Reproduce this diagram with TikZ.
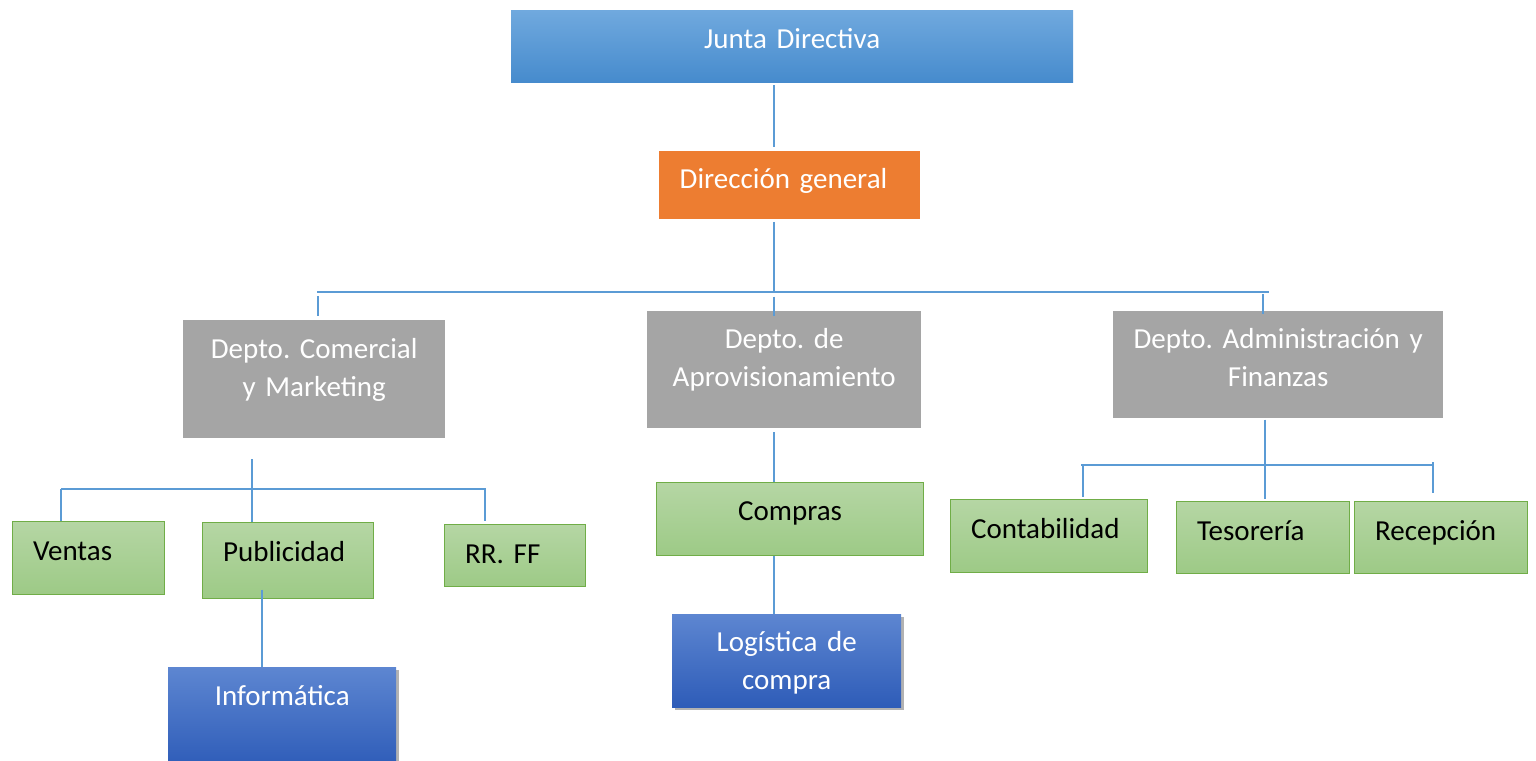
\documentclass[tikz,border=0pt]{standalone}
\usepackage{fontspec}
\setmainfont{Carlito}
\usepackage{tikz}
\usetikzlibrary{shadows}

\definecolor{linkblue}{RGB}{91,155,213}
\definecolor{juntatop}{RGB}{112,169,222}
\definecolor{juntabot}{RGB}{70,139,205}
\definecolor{dirorange}{RGB}{237,125,49}
\definecolor{deptgray}{RGB}{165,165,165}
\definecolor{leaftop}{RGB}{181,214,164}
\definecolor{leafbot}{RGB}{157,202,134}
\definecolor{leafedge}{RGB}{112,173,71}
\definecolor{darktop}{RGB}{93,134,209}
\definecolor{darkbot}{RGB}{46,92,184}

\tikzset{
    orgbox/.style={anchor=north west, inner xsep=20.5pt, inner ysep=0pt, text height=38.5pt, font=\fontsize{29}{38}\selectfont\frenchspacing},
    deptbox/.style={orgbox, inner xsep=8pt, fill=deptgray, text=white, align=center},
    leafbox/.style={orgbox, top color=leaftop, bottom color=leafbot, draw=leafedge, line width=1.2pt, align=left},
    unitbox/.style={orgbox, top color=darktop, bottom color=darkbot, text=white, align=center,
        drop shadow={shadow xshift=3pt, shadow yshift=-3pt, opacity=0.3, fill=black}},
    link/.style={draw=linkblue, line width=1.3pt}
}

\begin{document}
\begin{tikzpicture}[x=1pt, y=-1pt]
    \useasboundingbox (0,0) rectangle (1536,760);
    % top of the chart
    \node[orgbox, top color=juntatop, bottom color=juntabot, text=white, align=center, text width=521pt, text height=38.3pt, text depth=33.7pt] (junta) at (511,10) {Junta Directiva};
    \node[orgbox, fill=dirorange, text=white, align=left, text width=220pt, text height=37.3pt, text depth=30.7pt] (dir) at (659,151) {Dirección general};
    % departments
    \node[deptbox, text width=246pt, text height=38pt, text depth=80pt] (com) at (183,320) {Depto. Comercial\\y Marketing};
    \node[deptbox, text width=258pt, text height=37.6pt, text depth=79.4pt] (apr) at (647,311) {Depto. de\\Aprovisionamiento};
    \node[deptbox, text width=314pt, text height=37.6pt, text depth=69.4pt] (adm) at (1113,311) {Depto. Administración y\\Finanzas};
    % sections
    \foreach \n/\x/\y/\w/\d/\t in {ventas/12/521/111/34.5/Ventas, pub/202/522/130/37.5/Publicidad,
        rrff/444/524/100/23.5/RR. FF, cont/950/499/156/34.5/Contabilidad,
        tes/1176/501/132/33.5/Tesorería, rec/1354/501/132/33.5/Recepción}
        \node[leafbox, text width=\w pt, text depth=\d pt] (\n) at (\x,\y) {\t};
    \node[leafbox, align=center, text width=226pt, text height=38pt, text depth=35pt] (comp) at (656,482) {Compras};
    \node[unitbox, text width=187pt, text height=38.7pt, text depth=61.3pt] (inf) at (168,667) {Informática};
    \node[unitbox, text width=188pt, text height=37.7pt, text depth=55.3pt] (log) at (672,614) {Logística de\\compra};
    % main bus
    \coordinate (top) at (774,292);
    \coordinate (busL) at (318,292);
    \coordinate (busR) at (1269,292);
    \coordinate (admtop) at (1263,292);
    \draw[link, shorten <=3pt, shorten >=4pt] (junta.south -| top) -- (dir.north -| top);
    \draw[link, shorten <=2.5pt] (dir.south -| top) -- (top);
    \draw[link] ([xshift=-1pt]busL) -- (busR);
    \draw[link, shorten <=4pt, shorten >=4pt] (busL) -- (com.north -| busL);
    \draw[link, shorten <=4.5pt, shorten >=-5.3pt] (top) -- (apr.north -| top);
    \draw[link, shorten <=2pt, shorten >=-2.6pt] (admtop) -- (adm.north -| admtop);
    % Depto. Comercial y Marketing
    \coordinate (comx) at (252,489);
    \coordinate (comL) at (61,489);
    \coordinate (comR) at (485,489);
    \coordinate (infx) at (262,600);
    \draw[link, shorten <=21pt] (com.south -| comx) -- (pub.north -| comx);
    \draw[link] (comL) -- ([xshift=1pt]comR);
    \draw[link] (comL) -- (ventas.north -| comL);
    \draw[link, shorten >=3pt] (comR) -- (rrff.north -| comR);
    \draw[link, shorten <=-9.5pt] (pub.south -| infx) -- (inf.north -| infx);
    % Depto. de Aprovisionamiento
    \draw[link, shorten <=3.7pt] (apr.south -| top) -- (comp.north -| top);
    \draw[link] (comp.south -| top) -- (log.north -| top);
    % Depto. Administracion y Finanzas
    \coordinate (admx) at (1265,465);
    \coordinate (admL) at (1083,465);
    \coordinate (admR) at (1433,465);
    \draw[link, shorten <=1.3pt, shorten >=2pt] (adm.south -| admx) -- (tes.north -| admx);
    \draw[link] ([xshift=-2pt]admL) -- ([xshift=1pt]admR);
    \draw[link, shorten >=2pt] (admL) -- (cont.north -| admL);
    \draw[link, shorten <=-3pt, shorten >=8pt] (admR) -- (rec.north -| admR);
\end{tikzpicture}
\end{document}
